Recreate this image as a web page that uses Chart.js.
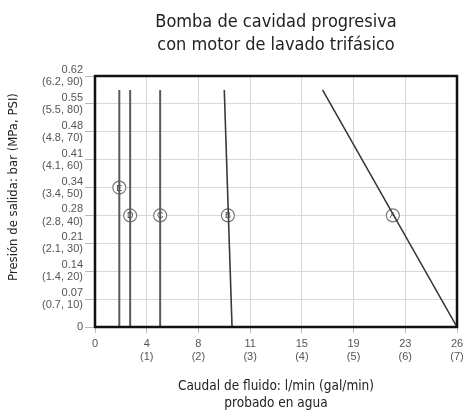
<!DOCTYPE html>
<html>
<head>
<meta charset="utf-8">
<script src="https://cdn.jsdelivr.net/npm/chart.js@4/dist/chart.umd.min.js"></script>
<style>
html,body{margin:0;padding:0;background:#fff;}
#wrap{width:468px;height:412px;position:relative;}
</style>
</head>
<body>
<div id="wrap"><canvas id="c" width="468" height="412"></canvas></div>
<script>
// Axis tick labels
const xTickLpm = ['0','4','8','11','15','19','23','26'];
const xTickGal = ['','(1)','(2)','(3)','(4)','(5)','(6)','(7)'];
const yTickBar = ['0','0.07','0.14','0.21','0.28','0.34','0.41','0.48','0.55','0.62'];
const yTickSub = ['','(0.7, 10)','(1.4, 20)','(2.1, 30)','(2.8, 40)','(3.4, 50)','(4.1, 60)','(4.8, 70)','(5.5, 80)','(6.2, 90)'];

// Series (flow in gal/min, pressure in PSI)
const seriesNames = ['A','B','C','D','E'];
const flowAtTop = [4.40, 2.50, 1.26, 0.68, 0.47];
const pressureTop = [85, 85, 85, 85, 85];
const flowAtZero = [7.00, 2.65, 1.26, 0.68, 0.47];
const pressureZero = [0, 0, 0, 0, 0];
const labelFlow = [5.76, 2.57, 1.26, 0.68, 0.47];
const labelPressure = [40, 40, 40, 40, 50];

const lineColors = ['#333','#3a3a3a','#5a5a5a','#5a5a5a','#5a5a5a'];
const lineWidths = [1.5, 1.6, 2, 2, 2];

const TITLE_FONT = '"Liberation Sans Narrow","DejaVu Sans Condensed","Roboto",sans-serif';
const TICK_FONT = '"Liberation Sans","Arial",sans-serif';

const datasets = seriesNames.map((n, i) => ({
  label: n,
  data: [{x: flowAtTop[i], y: pressureTop[i]}, {x: flowAtZero[i], y: pressureZero[i]}],
  showLine: true,
  borderColor: lineColors[i],
  borderWidth: lineWidths[i],
  pointRadius: 0,
  fill: false
}));
datasets.push({
  label: 'labels',
  data: seriesNames.map((n, i) => ({x: labelFlow[i], y: labelPressure[i]})),
  showLine: false,
  pointRadius: 6.5,
  pointBackgroundColor: '#fff',
  pointBorderColor: '#777',
  pointBorderWidth: 1.2,
  pointHoverRadius: 6.5
});

const decor = {
  id: 'decor',
  afterDatasetsDraw(chart) {
    const ctx = chart.ctx, a = chart.chartArea;
    ctx.save();
    // frame
    ctx.strokeStyle = '#111';
    ctx.lineWidth = 2.5;
    ctx.strokeRect(a.left, a.top, a.right - a.left, a.bottom - a.top);
    // circle letters
    const meta = chart.getDatasetMeta(chart.data.datasets.length - 1);
    ctx.fillStyle = '#444';
    ctx.font = '9px ' + TICK_FONT;
    ctx.textAlign = 'center';
    ctx.textBaseline = 'middle';
    meta.data.forEach((pt, i) => {
      ctx.fillText(seriesNames[i], pt.x, pt.y + 0.5);
    });
    // y axis title
    ctx.fillStyle = '#222';
    ctx.font = '13px ' + TITLE_FONT;
    ctx.translate(14, 187);
    ctx.rotate(-Math.PI / 2);
    ctx.fillText('Presión de salida: bar (MPa, PSI)', 0, 0);
    ctx.restore();
  }
};

new Chart(document.getElementById('c'), {
  type: 'scatter',
  data: {datasets},
  options: {
    responsive: false,
    animation: false,
    events: [],
    layout: {padding: {left: 0, right: 11, top: 0, bottom: 0}},
    plugins: {
      legend: {display: false},
      tooltip: {enabled: false},
      title: {
        display: true,
        fullSize: false,
        text: ['Bomba de cavidad progresiva', 'con motor de lavado trifásico'],
        color: '#222',
        font: {family: TITLE_FONT, size: 18, weight: 'normal', lineHeight: '23px'},
        padding: {top: 10.5, bottom: 19.5}
      }
    },
    scales: {
      x: {
        type: 'linear',
        min: 0, max: 7,
        afterFit(s) { s.height = 85; },
        ticks: {
          stepSize: 1,
          color: '#555',
          font: {family: TICK_FONT, size: 11, lineHeight: 1.2},
          padding: 4,
          maxRotation: 0,
          callback(v, i) { return i === 0 ? xTickLpm[i] : [xTickLpm[i], xTickGal[i]]; }
        },
        grid: {color: '#d8d8d8', lineWidth: 1, tickLength: 6, tickColor: '#bbb'},
        border: {display: false},
        title: {
          display: true,
          text: ['Caudal de fluido: l/min (gal/min)', 'probado en agua'],
          color: '#222',
          font: {family: TITLE_FONT, size: 13.5, lineHeight: '17px'},
          padding: {top: 4, bottom: 0.5}
        }
      },
      y: {
        type: 'linear',
        min: 0, max: 90,
        afterFit(s) { s.width = 95; },
        ticks: {
          stepSize: 10,
          color: '#555',
          font: {family: TICK_FONT, size: 11, lineHeight: 1.1},
          padding: 2,
          callback(v, i) { return i === 0 ? yTickBar[i] : [yTickBar[i], yTickSub[i]]; }
        },
        grid: {color: '#d8d8d8', lineWidth: 1, tickLength: 10, tickColor: '#bbb'},
        border: {display: false},
        title: {display: false}
      }
    }
  },
  plugins: [decor]
});
</script>
</body>
</html>
